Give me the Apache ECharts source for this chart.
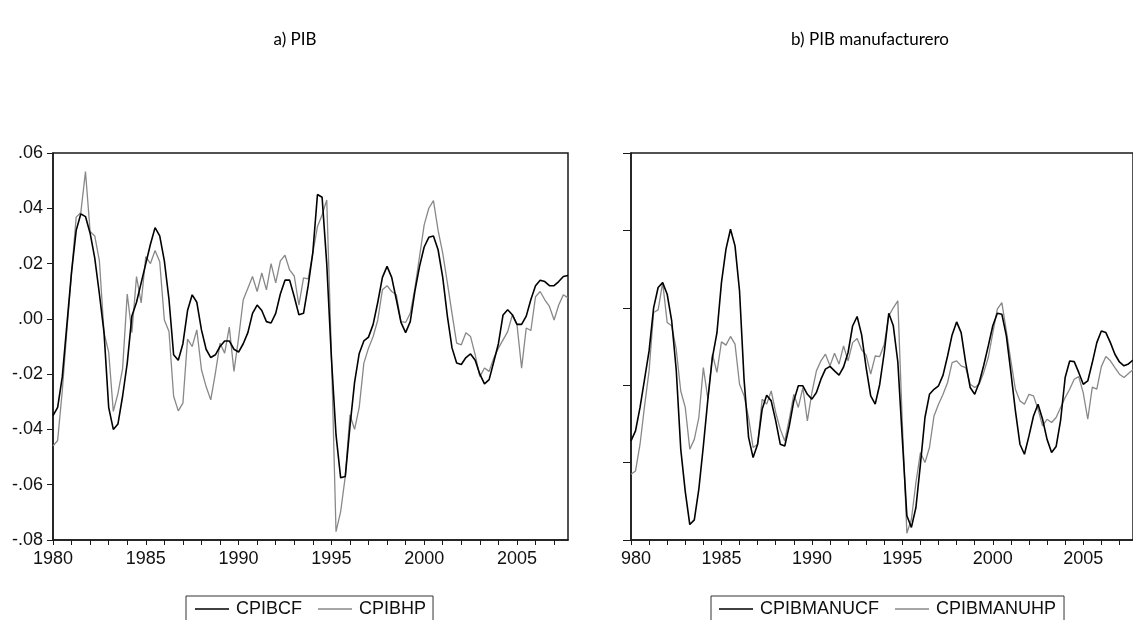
<!DOCTYPE html>
<html>
<head>
<meta charset="utf-8">
<script src="https://cdn.jsdelivr.net/npm/echarts@6/dist/echarts.min.js"></script>
<style>
  html, body { margin: 0; padding: 0; background: #fff; }
  #chart { width: 1133px; height: 620px; }
</style>
</head>
<body>
<div id="chart"></div>
<script>
// quarters 1980Q1 .. 2007Q4
var quarters = [];
for (var y = 1980; y <= 2007; y++) {
  for (var q = 1; q <= 4; q++) quarters.push(y + 'Q' + q);
}

var cpibcf = [
  -0.035, -0.032, -0.021, -0.002, 0.017, 0.032, 0.038, 0.037, 0.031, 0.022, 0.009, -0.005,
  -0.032, -0.040, -0.038, -0.028, -0.016, 0.001, 0.006, 0.013, 0.020, 0.027, 0.033, 0.030,
  0.021, 0.007, -0.013, -0.015, -0.009, 0.003, 0.0087, 0.006, -0.004, -0.011, -0.014, -0.013,
  -0.010, -0.008, -0.008, -0.011, -0.012, -0.009, -0.005, 0.002, 0.005, 0.003, -0.001, -0.0015,
  0.002, 0.009, 0.014, 0.014, 0.008, 0.0015, 0.002, 0.012, 0.024, 0.045, 0.044, 0.020,
  -0.014, -0.042, -0.0575, -0.057, -0.039, -0.023, -0.0125, -0.008, -0.0066, -0.002, 0.006, 0.015,
  0.019, 0.015, 0.007, -0.0013, -0.005, -0.001, 0.010, 0.019, 0.026, 0.0295, 0.030, 0.025,
  0.015, 0.001, -0.0105, -0.016, -0.0165, -0.014, -0.0127, -0.015, -0.020, -0.0235, -0.022, -0.0155,
  -0.009, 0.0014, 0.0033, 0.0015, -0.002, -0.002, 0.001, 0.007, 0.012, 0.014, 0.0135, 0.012,
  0.012, 0.0135, 0.0153, 0.0157
];
var cpibhp = [
  -0.046, -0.044, -0.026, -0.004, 0.0166, 0.0368, 0.0385, 0.0533, 0.0316, 0.030, 0.021, -0.005,
  -0.012, -0.0335, -0.027, -0.018, 0.009, -0.005, 0.0153, 0.0058, 0.0225, 0.020, 0.0247, 0.0207,
  -0.0004, -0.0046, -0.028, -0.0333, -0.0305, -0.0073, -0.010, -0.004, -0.0184, -0.0245, -0.0293, -0.0196,
  -0.0088, -0.0124, -0.003, -0.019, -0.007, 0.0069, 0.0111, 0.0153, 0.0099, 0.0166, 0.0105, 0.020,
  0.013, 0.021, 0.023, 0.0177, 0.0155, 0.005, 0.0148, 0.0145, 0.0238, 0.0334, 0.0376, 0.043,
  -0.012, -0.077, -0.0697, -0.057, -0.0347, -0.040, -0.032, -0.016, -0.0106, -0.0064, -0.0004, 0.0105,
  0.012, 0.0099, 0.0087, -0.001, -0.0013, 0.002, 0.011, 0.0225, 0.034, 0.040, 0.0428, 0.032,
  0.0238, 0.013, 0.002, -0.0088, -0.0094, -0.005, -0.0064, -0.013, -0.0209, -0.0178, -0.019, -0.0142,
  -0.0106, -0.0076, -0.0046, 0.0014, -0.002, -0.0178, -0.0033, -0.0042, 0.008, 0.0099, 0.0069, 0.0045,
  -0.0004, 0.005, 0.0087, 0.0076
];
var cpibmanucf = [
  -0.0288, -0.0236, -0.0115, 0.0031, 0.0177, 0.040, 0.0505, 0.053, 0.047, 0.0332, 0.008, -0.033,
  -0.055, -0.072, -0.0696, -0.0537, -0.0314, -0.0072, 0.0143, 0.027, 0.053, 0.0703, 0.0806, 0.072,
  0.0487, 0.003, -0.027, -0.0374, -0.0305, -0.0124, -0.0052, -0.0081, -0.0184, -0.0305, -0.0314, -0.021,
  -0.0081, -0.0003, -0.0003, -0.0047, -0.0072, -0.0038, 0.0031, 0.0083, 0.0097, 0.0074, 0.0052, 0.0094,
  0.0169, 0.0306, 0.0355, 0.026, 0.009, -0.0055, -0.0098, 0.0005, 0.0169, 0.0372, 0.0307, 0.012,
  -0.028, -0.0675, -0.0735, -0.0632, -0.0408, -0.0167, -0.0047, -0.0021, -0.0003, 0.0052, 0.0151, 0.026,
  0.0327, 0.0272, 0.0117, -0.0012, -0.0047, 0.0014, 0.0103, 0.0203, 0.0307, 0.0372, 0.0367, 0.0255,
  0.0066, -0.0133, -0.0305, -0.0357, -0.0262, -0.0159, -0.0098, -0.0176, -0.028, -0.0348, -0.0317, -0.018,
  0.004, 0.0125, 0.0122, 0.0066, 0.0005, 0.0022, 0.0117, 0.022, 0.028, 0.0272, 0.022, 0.016,
  0.012, 0.010, 0.011, 0.013
];
var cpibmanuhp = [
  -0.046, -0.0443, -0.0305, -0.0107, 0.0074, 0.0376, 0.0389, 0.053, 0.0324, 0.0307, 0.0186, -0.003,
  -0.0115, -0.0331, -0.028, -0.0167, 0.0091, -0.0072, 0.016, 0.0066, 0.0224, 0.0207, 0.0252, 0.0212,
  0.0005, -0.0055, -0.0167, -0.0322, -0.0305, -0.0072, -0.0098, -0.003, -0.0141, -0.0227, -0.0288, -0.0176,
  -0.0047, -0.0115, -0.0012, -0.0184, -0.0038, 0.0074, 0.0126, 0.016, 0.010, 0.0165, 0.0109, 0.0203,
  0.0126, 0.022, 0.0241, 0.0183, 0.0155, 0.0057, 0.0151, 0.0148, 0.0212, 0.0358, 0.040, 0.0436,
  -0.020, -0.0765, -0.0693, -0.0503, -0.0348, -0.040, -0.0322, -0.0159, -0.0098, -0.0047, 0.0014, 0.0117,
  0.0126, 0.010, 0.0091, 0.0005, -0.0012, 0.0005, 0.0066, 0.0143, 0.027, 0.0393, 0.0427, 0.028,
  0.0126, -0.0021, -0.0081, -0.0098, -0.0047, -0.0055, -0.0124, -0.021, -0.0176, -0.0193, -0.0167, -0.0115,
  -0.0064, -0.0021, 0.0031, 0.0044, -0.004, -0.0176, -0.001, -0.002, 0.0096, 0.0148, 0.0126, 0.0091,
  0.0057, 0.004, 0.006, 0.008
];

var titles = ['a) PIB', 'b) PIB manufacturero'];

var axisFont = 'Liberation Sans, Arial, sans-serif';
var axisCol = '#1a1a1a';

function xAxisFor(gridIndex, cut) {
  return {
    type: 'category',
    gridIndex: gridIndex,
    data: quarters,
    boundaryGap: false,
    axisLine: { onZero: false, lineStyle: { color: axisCol, width: 1.5 } },
    axisTick: {
      length: 5,
      lineStyle: { color: axisCol, width: 1 },
      interval: function (i) { return i % 4 === 0; }
    },
    axisLabel: {
      interval: function (i) { return i % 20 === 0; },
      margin: 10,
      color: '#111',
      fontFamily: axisFont,
      fontSize: 18,
      formatter: function (v, i) {
        var yr = v.slice(0, 4);
        if (cut && i === 0) return '{cut|' + yr.slice(1) + '}';
        return yr;
      },
      rich: {
        cut: { padding: [0, 0, 0, 10], fontFamily: axisFont, fontSize: 18, color: '#111' }
      }
    },
    splitLine: { show: false }
  };
}

function legendFor(names, left, pad) {
  return {
    data: names.map(function (n, k) {
      return { name: n, icon: 'rect', itemStyle: { color: k === 0 ? '#000' : '#888' } };
    }),
    left: left, top: 596, orient: 'horizontal',
    itemWidth: 34, itemHeight: 1.5, itemGap: 16,
    padding: pad, borderColor: '#333', borderWidth: 1,
    textStyle: { fontFamily: axisFont, fontSize: 18, color: '#111', padding: [0, 0, 0, 2] }
  };
}

var titleStyle = { fontFamily: 'Lato, Carlito, sans-serif', fontSize: 17, fontWeight: 'normal', color: '#000' };

var chart = echarts.init(document.getElementById('chart'));
chart.setOption({
  backgroundColor: '#fff',
  animation: false,
  title: [
    { text: titles[0], left: 290, top: 26, textAlign: 'center', textStyle: titleStyle },
    { text: titles[1], left: 865, top: 26, textAlign: 'center', textStyle: titleStyle }
  ],
  grid: [
    { left: 53, top: 153, width: 515, height: 387, show: true, borderColor: axisCol, borderWidth: 1.5, backgroundColor: 'transparent' },
    { left: 631, top: 153, width: 515, height: 387, show: true, borderColor: axisCol, borderWidth: 1.5, backgroundColor: 'transparent' }
  ],
  xAxis: [xAxisFor(0, false), xAxisFor(1, true)],
  yAxis: [
    {
      type: 'value', gridIndex: 0, min: -0.08, max: 0.06, interval: 0.02,
      axisLine: { show: true, onZero: false, lineStyle: { color: axisCol, width: 1.5 } },
      axisTick: { show: true, length: 6, lineStyle: { color: axisCol } },
      splitLine: { show: false },
      axisLabel: {
        margin: 10, color: '#111', fontFamily: axisFont, fontSize: 18,
        formatter: function (v) { return v.toFixed(2).replace('0.', '.'); }
      }
    },
    {
      type: 'value', gridIndex: 1, min: -0.08, max: 0.12, interval: 0.04,
      axisLine: { show: true, onZero: false, lineStyle: { color: axisCol, width: 1.5 } },
      axisTick: { show: true, length: 8, lineStyle: { color: axisCol } },
      splitLine: { show: false },
      axisLabel: { show: false }
    }
  ],
  legend: [
    legendFor(['CPIBCF', 'CPIBHP'], 186, [4, 7, 12, 9]),
    legendFor(['CPIBMANUCF', 'CPIBMANUHP'], 711, [4, 8, 12, 8])
  ],
  series: [
    { name: 'CPIBCF', type: 'line', xAxisIndex: 0, yAxisIndex: 0, data: cpibcf, symbol: 'none',
      lineStyle: { color: '#000', width: 1.6 }, itemStyle: { color: '#000' }, z: 3 },
    { name: 'CPIBHP', type: 'line', xAxisIndex: 0, yAxisIndex: 0, data: cpibhp, symbol: 'none',
      lineStyle: { color: '#888', width: 1.3 }, itemStyle: { color: '#888' }, z: 2 },
    { name: 'CPIBMANUCF', type: 'line', xAxisIndex: 1, yAxisIndex: 1, data: cpibmanucf, symbol: 'none',
      lineStyle: { color: '#000', width: 1.6 }, itemStyle: { color: '#000' }, z: 3 },
    { name: 'CPIBMANUHP', type: 'line', xAxisIndex: 1, yAxisIndex: 1, data: cpibmanuhp, symbol: 'none',
      lineStyle: { color: '#888', width: 1.3 }, itemStyle: { color: '#888' }, z: 2 }
  ]
});
</script>
</body>
</html>
